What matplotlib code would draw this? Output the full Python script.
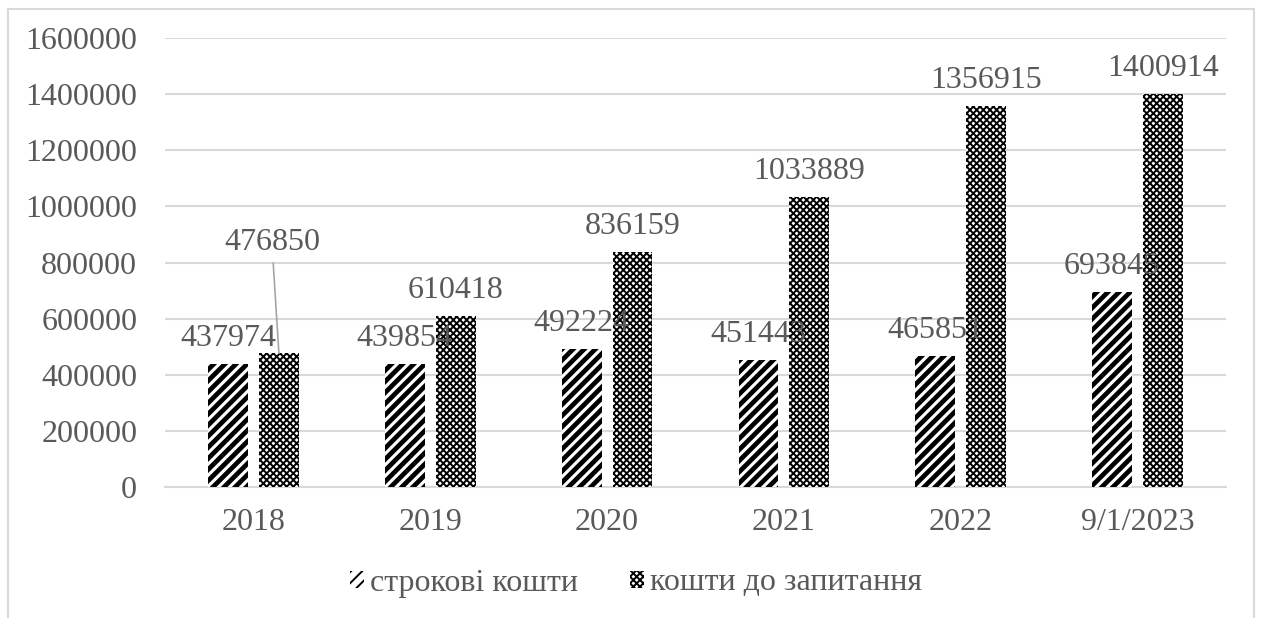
import numpy as np
import matplotlib.pyplot as plt
from matplotlib.patches import Rectangle
from matplotlib.ticker import FuncFormatter

years = ['2018', '2019', '2020', '2021', '2022', '9/1/2023']
term = [437974, 439854, 492224, 451443, 465851, 693845]
demand = [476850, 610418, 836159, 1033889, 1356915, 1400914]

plt.rcParams['font.family'] = 'Liberation Serif'
plt.rcParams['font.size'] = 23
grey = '#595959'
line_grey = '#d9d9d9'

fig = plt.figure(figsize=(12.61, 6.18), dpi=100)
ax = fig.add_axes([165/1261, 1 - 487/618, (1226 - 165)/1261, (487 - 38)/618])

x = np.arange(len(years))
w = 0.225
off = 0.144

plt.rcParams['hatch.linewidth'] = 3.4
b1 = ax.bar(x - off, term, w, color='white', edgecolor='black', linewidth=0,
            hatch='///', label='строкові кошти', zorder=3)
plt.rcParams['hatch.linewidth'] = 1.4
b2 = ax.bar(x + off, demand, w, color='white', edgecolor='black', linewidth=0,
            hatch='xxxxx', label='кошти до запитання', zorder=3)
for p in b1:
    if hasattr(p, 'set_hatch_linewidth'):
        p.set_hatch_linewidth(3.4)
for p in b2:
    if hasattr(p, 'set_hatch_linewidth'):
        p.set_hatch_linewidth(1.4)

ax.set_xlim(-0.5, len(years) - 0.5)
ax.set_ylim(0, 1600000)
ax.set_yticks(np.arange(0, 1600001, 200000))
ax.yaxis.set_major_formatter(FuncFormatter(lambda v, pos: '%d' % v))
ax.set_xticks(x)
ax.set_xticklabels(years)
ax.yaxis.grid(True, color=line_grey, linewidth=1.5, zorder=0)
ax.set_axisbelow(True)
for s in ['top', 'right', 'left']:
    ax.spines[s].set_visible(False)
ax.spines['bottom'].set_color(line_grey)
ax.spines['bottom'].set_linewidth(1.5)
ax.tick_params(axis='both', length=0, colors=grey)
ax.tick_params(axis='y', pad=20)
ax.tick_params(axis='x', pad=15)

# data labels
for i in range(len(years)):
    ax.annotate(str(term[i]), (x[i] - off, term[i]), xytext=(0, 13),
                textcoords='offset points', ha='center', va='baseline', color=grey, zorder=4)
    if i == 0:
        ax.annotate(str(demand[i]), (x[i] + off, demand[i]), xytext=(-5, 74),
                    textcoords='offset points', ha='center', va='baseline', color=grey,
                    zorder=4, arrowprops=dict(arrowstyle='-', color='#a6a6a6', lw=1.2,
                                              shrinkA=2, shrinkB=0))
    else:
        ax.annotate(str(demand[i]), (x[i] + off, demand[i]), xytext=(0, 13),
                    textcoords='offset points', ha='center', va='baseline', color=grey, zorder=4)

leg = fig.legend(handles=[b1, b2], loc='center', bbox_to_anchor=(636/1261, 1 - 583/618),
                 ncol=2, frameon=False, handlelength=0.45, handleheight=0.45,
                 handletextpad=0.2, columnspacing=1.6, labelcolor=grey)

fig.patches.append(Rectangle((8/1261, -0.05), (1254 - 8)/1261, 1 - 9/618 + 0.05,
                             transform=fig.transFigure, fill=False,
                             edgecolor=line_grey, linewidth=1.5))

fig.savefig('out.png', dpi=100)
